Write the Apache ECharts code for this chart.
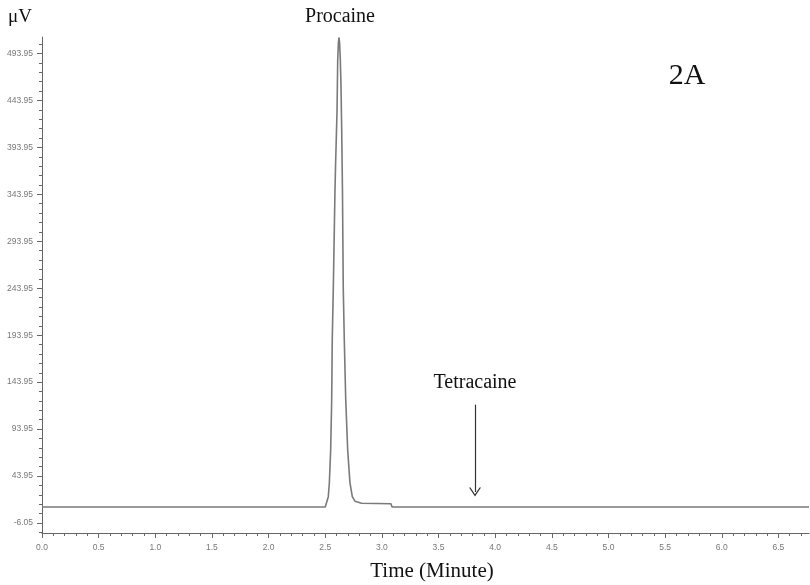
<!DOCTYPE html>
<html>
<head>
<meta charset="utf-8">
<script src="https://cdn.jsdelivr.net/npm/echarts@6/dist/echarts.min.js"></script>
<style>html,body{margin:0;padding:0;background:#fff}#c{width:810px;height:585px}</style>
</head>
<body>
<div id="c"></div>
<script>
// Chromatogram data (time in minutes, signal in µV)
const times  = [0, 2.500, 2.513, 2.527, 2.536, 2.548, 2.557, 2.562, 2.571, 2.586, 2.592, 2.604, 2.610, 2.616, 2.621, 2.627, 2.633, 2.639, 2.645, 2.652, 2.659, 2.668, 2.681, 2.698, 2.718, 2.739, 2.763, 2.820, 3.080, 3.090, 6.77];
const signal = [11,  11,    12,    22,    36,    72,    125,   189,   242,   348,   379,   432,   486,   505,   511,   505,   488,   460,   415,   350,   245,   190,   125,   72,    37,    22,    17,    15,    14.5,  11,    11];

const yMajorTicks = [-6.05, 43.95, 93.95, 143.95, 193.95, 243.95, 293.95, 343.95, 393.95, 443.95, 493.95];
const yMinorTicks = [-16.05, 3.95, 13.95, 23.95, 33.95, 53.95, 63.95, 73.95, 83.95, 103.95, 113.95, 123.95, 133.95,
  153.95, 163.95, 173.95, 183.95, 203.95, 213.95, 223.95, 233.95, 253.95, 263.95, 273.95, 283.95,
  303.95, 313.95, 323.95, 333.95, 353.95, 363.95, 373.95, 383.95, 403.95, 413.95, 423.95, 433.95,
  453.95, 463.95, 473.95, 483.95, 503.95];
const xMajorTicks = [0, 0.5, 1.0, 1.5, 2.0, 2.5, 3.0, 3.5, 4.0, 4.5, 5.0, 5.5, 6.0, 6.5];
const xMinorTicks = [0.1,0.2,0.3,0.4,0.6,0.7,0.8,0.9,1.1,1.2,1.3,1.4,1.6,1.7,1.8,1.9,2.1,2.2,2.3,2.4,
  2.6,2.7,2.8,2.9,3.1,3.2,3.3,3.4,3.6,3.7,3.8,3.9,4.1,4.2,4.3,4.4,4.6,4.7,4.8,4.9,
  5.1,5.2,5.3,5.4,5.6,5.7,5.8,5.9,6.1,6.2,6.3,6.4,6.6,6.7];

const arrowX = 3.822, arrowTop = 120, arrowBottom = 27;

const seriesData = times.map((t, i) => [t, signal[i]]);

const axisCol = '#666';
const labelStyle = {color: '#777', fontFamily: 'Liberation Sans, Arial, sans-serif', fontSize: 8.5};
const serif = '"Liberation Serif", "Times New Roman", serif';

const chart = echarts.init(document.getElementById('c'), null, {renderer: 'canvas'});
chart.setOption({
  animation: false,
  backgroundColor: '#fff',
  grid: {left: 42, right: 1, top: 37, bottom: 52, containLabel: false},
  xAxis: [{
    type: 'value', min: 0, max: 6.77,
    axisLine: {show: true, onZero: false, lineStyle: {color: axisCol, width: 1}},
    axisTick: {show: true, customValues: xMajorTicks, length: 5, lineStyle: {color: axisCol}},
    axisLabel: Object.assign({customValues: xMajorTicks, margin: 10, formatter: v => v.toFixed(1)}, labelStyle),
    splitLine: {show: false}
  }, {
    type: 'value', min: 0, max: 6.77, position: 'bottom',
    axisLine: {show: false, onZero: false},
    axisTick: {show: true, customValues: xMinorTicks, length: 3, lineStyle: {color: axisCol}},
    axisLabel: {show: false},
    splitLine: {show: false}
  }],
  yAxis: [{
    type: 'value', min: -16.7, max: 511.5,
    axisLine: {show: true, onZero: false, lineStyle: {color: axisCol, width: 1}},
    axisTick: {show: true, customValues: yMajorTicks, length: 5, lineStyle: {color: axisCol}},
    axisLabel: Object.assign({customValues: yMajorTicks, margin: 9, formatter: v => v.toFixed(2)}, labelStyle),
    splitLine: {show: false}
  }, {
    type: 'value', min: -16.7, max: 511.5, position: 'left',
    axisLine: {show: false, onZero: false},
    axisTick: {show: true, customValues: yMinorTicks, length: 3, lineStyle: {color: axisCol}},
    axisLabel: {show: false},
    splitLine: {show: false}
  }],
  series: [{
    type: 'line',
    data: seriesData,
    showSymbol: false,
    symbol: 'none',
    clip: false,
    lineStyle: {color: '#7a7a7a', width: 1.6},
    markLine: {
      silent: true,
      symbol: ['none', 'path://M5,0 L10,10 L8.8,10 L5,2.4 L1.2,10 L0,10 Z'],
      symbolSize: [12, 9],
      label: {show: false},
      lineStyle: {color: '#333', width: 1.2, type: 'solid'},
      data: [[{coord: [arrowX, arrowTop]}, {coord: [arrowX, arrowBottom]}]]
    }
  }],
  graphic: [
    {type: 'text', left: 8, top: 8, style: {text: 'μV', font: '19px ' + serif, fill: '#111'}},
    {type: 'text', x: 340, y: 17, style: {text: 'Procaine', font: '20px ' + serif, fill: '#111', align: 'center', verticalAlign: 'middle'}},
    {type: 'text', x: 687, y: 76, style: {text: '2A', font: '30px ' + serif, fill: '#111', align: 'center', verticalAlign: 'middle'}},
    {type: 'text', x: 475, y: 383, style: {text: 'Tetracaine', font: '20px ' + serif, fill: '#111', align: 'center', verticalAlign: 'middle'}},
    {type: 'text', x: 432, y: 571, style: {text: 'Time (Minute)', font: '21px ' + serif, fill: '#111', align: 'center', verticalAlign: 'middle'}}
  ]
});
</script>
</body>
</html>
